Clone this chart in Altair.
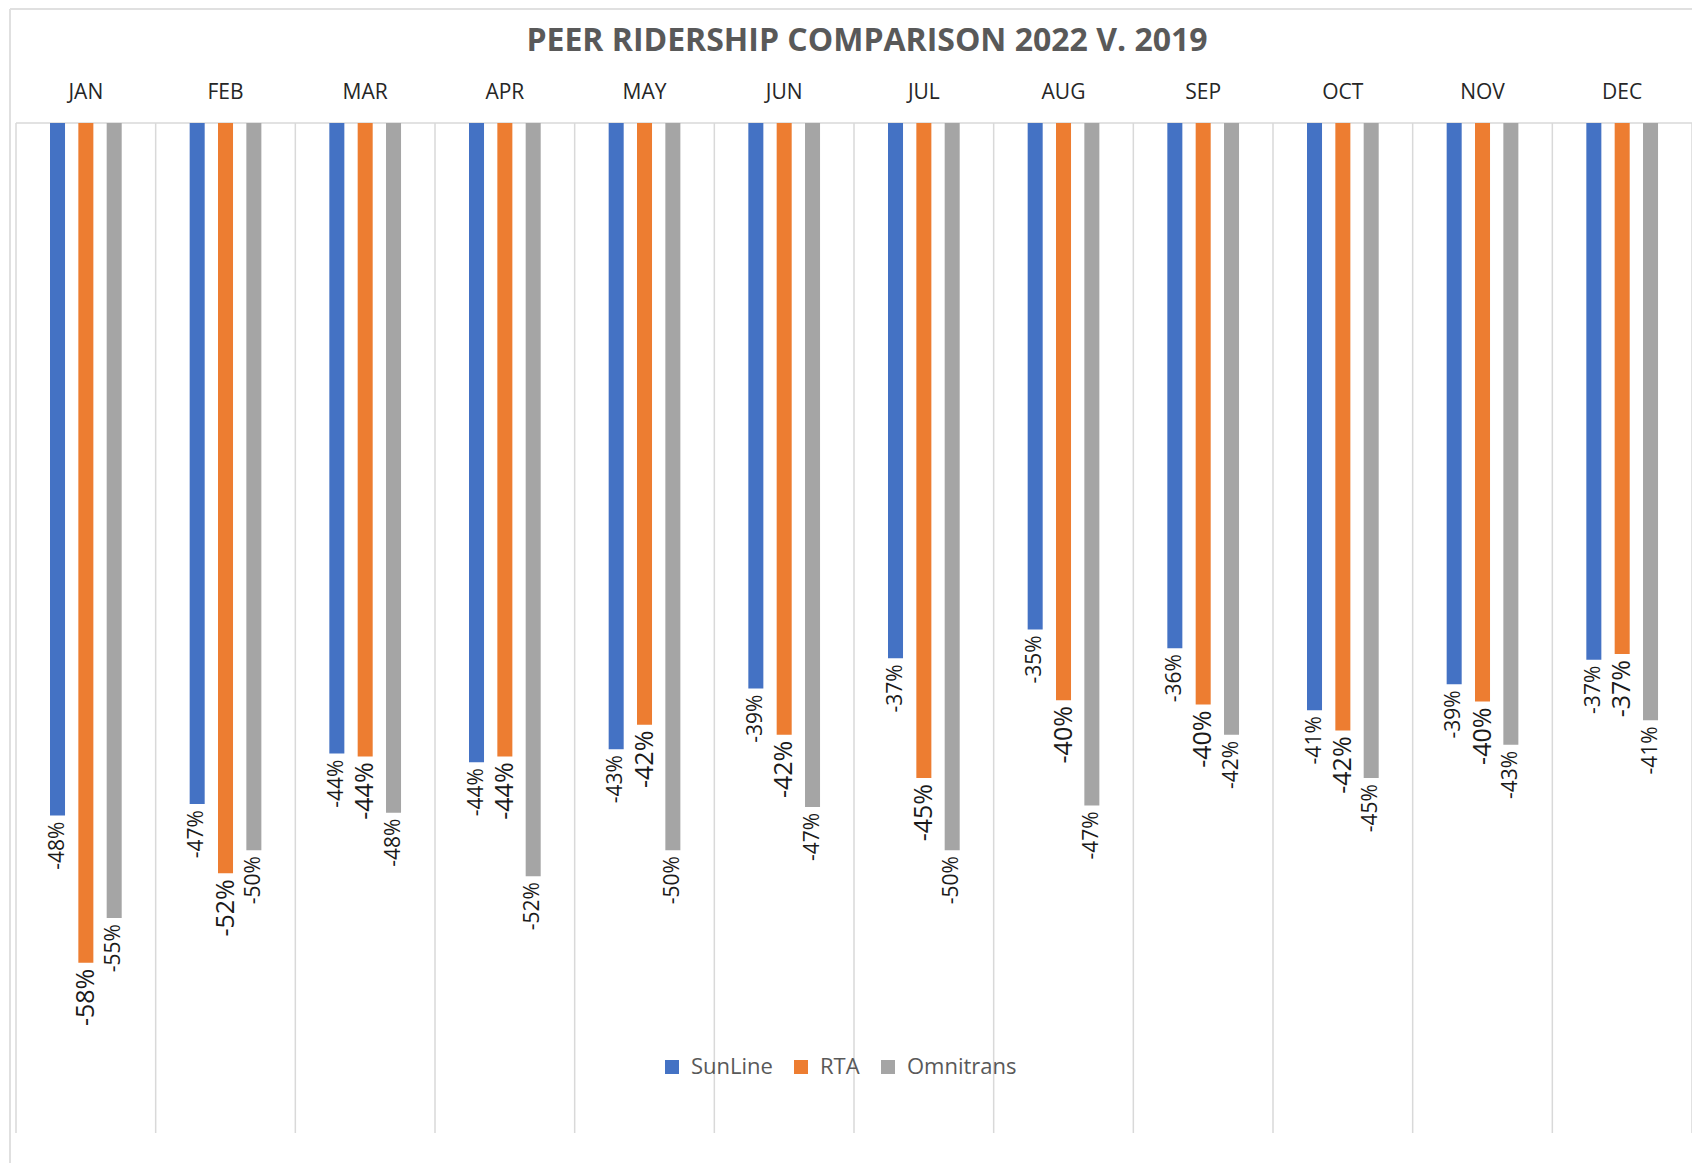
import altair as alt
import pandas as pd

months = ["JAN", "FEB", "MAR", "APR", "MAY", "JUN", "JUL", "AUG", "SEP", "OCT", "NOV", "DEC"]
series = ["SunLine", "RTA", "Omnitrans"]
sunline = [-0.480, -0.472, -0.437, -0.443, -0.434, -0.392, -0.371, -0.351, -0.364, -0.407, -0.389, -0.372]
rta = [-0.582, -0.520, -0.439, -0.439, -0.417, -0.424, -0.454, -0.400, -0.403, -0.421, -0.401, -0.368]
omnitrans = [-0.551, -0.504, -0.478, -0.522, -0.504, -0.474, -0.504, -0.473, -0.424, -0.454, -0.431, -0.414]
colors = ["#4472C4", "#ED7D31", "#A5A5A5"]
title_text = "PEER RIDERSHIP COMPARISON 2022 V. 2019"

rows = []
for name, vals in zip(series, [sunline, rta, omnitrans]):
    for m, v in zip(months, vals):
        rows.append({"month": m, "series": name, "value": v,
                     "label": f"-{abs(round(v * 100)):.0f}%"})
df = pd.DataFrame(rows)
grid_df = pd.DataFrame({"month": months})
one = pd.DataFrame({"t": [title_text]})

W, H = 1676, 1010
FONT = "Open Sans"

y_scale = alt.Scale(domain=[-0.70, 0], nice=False)
x_scale = alt.Scale(domain=months, paddingInner=0, paddingOuter=0)
x_plain = alt.X("month:N", sort=months, scale=x_scale, axis=None)
xoff = alt.XOffset("series:N", sort=series,
                   scale=alt.Scale(paddingInner=0.47, paddingOuter=0, range=[34, 105.7]))

grid = alt.Chart(grid_df).mark_rule(color="#D9D9D9", strokeWidth=1.5).encode(
    x=alt.X("month:N", sort=months, scale=x_scale, axis=None, bandPosition=0),
    y=alt.value(0), y2=alt.value(H))
right_edge = alt.Chart(one).mark_rule(color="#D9D9D9", strokeWidth=1.5).encode(
    x=alt.value(W), y=alt.value(0), y2=alt.value(H))
top_line = alt.Chart(one).mark_rule(color="#D9D9D9", strokeWidth=1.5).encode(
    x=alt.value(0), x2=alt.value(W), y=alt.value(0))
border_left = alt.Chart(one).mark_rule(color="#E0E0E0", strokeWidth=2).encode(
    x=alt.value(-6), y=alt.value(-114), y2=alt.value(1040))
border_top = alt.Chart(one).mark_rule(color="#E0E0E0", strokeWidth=2).encode(
    x=alt.value(-6), x2=alt.value(W + 20), y=alt.value(-114))

title = alt.Chart(one).mark_text(fontSize=32, fontWeight="bold", color="#595959", font=FONT,
                                 align="center", baseline="middle").encode(
    x=alt.value(851), y=alt.value(-82), text="t:N")

month_labels = alt.Chart(grid_df).mark_text(fontSize=21, color="#262626", font=FONT,
                                            align="center", baseline="middle").encode(
    x=x_plain, y=alt.value(-30), text="month:N")

bars = alt.Chart(df).mark_bar().encode(
    x=x_plain,
    xOffset=xoff,
    y=alt.Y("value:Q", scale=y_scale, axis=None),
    color=alt.Color("series:N", sort=series,
                    scale=alt.Scale(domain=series, range=colors),
                    legend=alt.Legend(title=None, orient="none", direction="horizontal",
                                      legendX=645, legendY=933, symbolType="square",
                                      symbolSize=196, symbolStrokeWidth=0, labelFontSize=22,
                                      labelFont=FONT, labelColor="#595959", columnPadding=17,
                                      labelOffset=8, padding=0)),
)

def label_layer(cond, size):
    return alt.Chart(df).transform_filter(cond).mark_text(
        angle=270, align="right", baseline="middle", dx=-6, color="#1A1A1A",
        font=FONT, fontSize=size).encode(
        x=x_plain,
        xOffset=xoff,
        y=alt.Y("value:Q", scale=y_scale, axis=None),
        text="label:N",
    )

labels_small = label_layer("datum.series != 'RTA'", 21)
labels_big = label_layer("datum.series == 'RTA'", 25)

chart = alt.layer(border_left, border_top, grid, right_edge, top_line, title, month_labels,
                  bars, labels_small, labels_big).properties(
    width=W, height=H,
    autosize=alt.AutoSizeParams(type="none"),
    padding={"left": 8, "top": 115, "right": 0, "bottom": 30},
).configure_view(stroke=None)

chart.save("out.html", embed_options={"renderer": "svg", "actions": False})
